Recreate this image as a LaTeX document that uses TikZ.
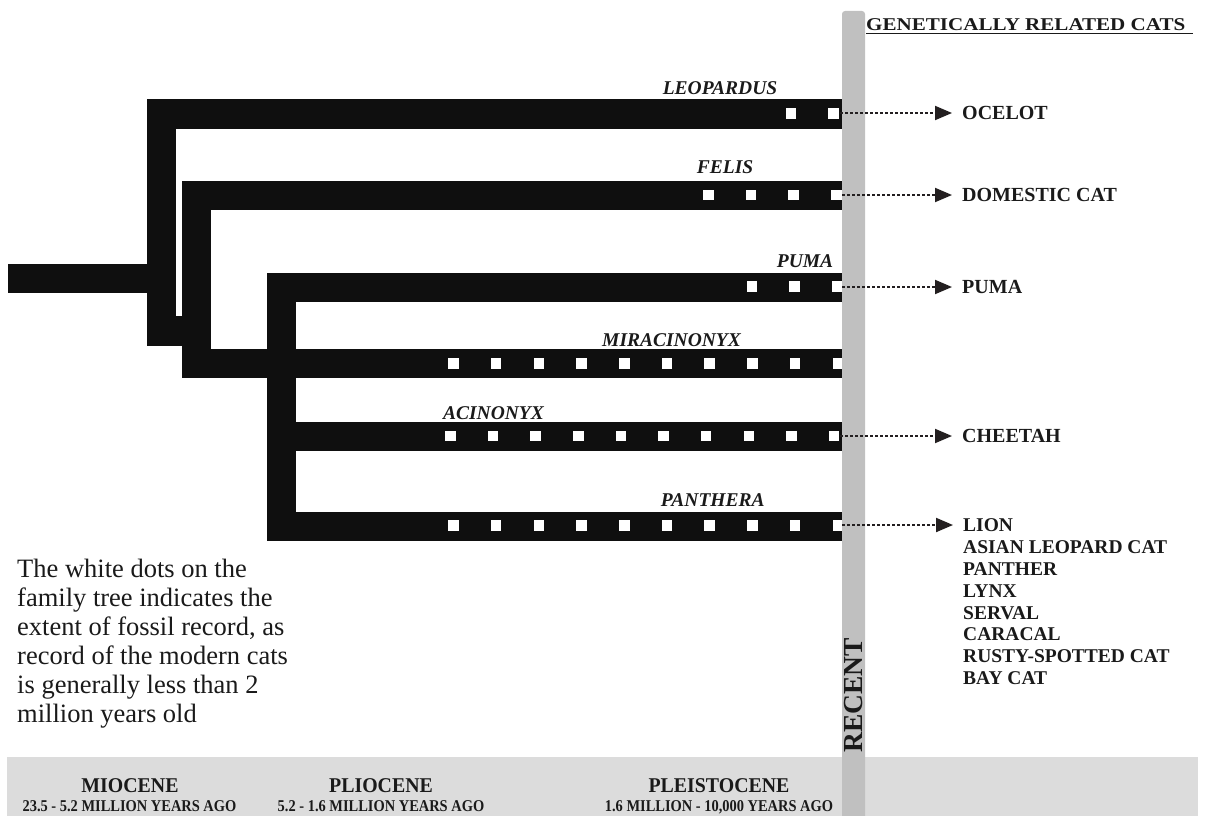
\documentclass[tikz,border=0pt]{standalone}
\usepackage{fontspec}
\setmainfont{Liberation Serif}
\usetikzlibrary{arrows.meta}
\definecolor{barblack}{HTML}{0F0F0F}
\definecolor{recentgray}{HTML}{C0C0C0}
\definecolor{bandgray}{HTML}{DCDCDC}
\definecolor{ink}{HTML}{1A1A1A}
\definecolor{tipcol}{HTML}{231F20}
\newcommand\fossildot[2]{\fill[white] ({#1-5.25},{#2-5.25}) rectangle ++(10.5,10.5);}
\begin{document}
\begin{tikzpicture}[x=1pt,y=-1pt,
  bar/.style={fill=barblack},
  genus/.style={font=\fontsize{19.5}{20}\selectfont\bfseries\itshape, text=ink, inner sep=0pt, anchor=base},
  species/.style={font=\fontsize{20}{22}\selectfont\bfseries, text=ink, inner sep=0pt, anchor=west, text height=13.2pt, text depth=0pt},
  listed/.style={font=\fontsize{19.5}{22}\selectfont\bfseries, text=ink, inner sep=0pt, anchor=west, text height=12.9pt, text depth=0pt},
  link/.style={draw=tipcol, line width=2pt, dash pattern=on 3pt off 2pt, -{Triangle[length=17pt,width=14pt,fill=tipcol]}, shorten >=10pt},
  era/.style={font=\fontsize{21}{22}\selectfont\bfseries, text=ink, inner sep=0pt, anchor=base, xscale=0.945},
  erasub/.style={font=\fontsize{16.5}{18}\selectfont\bfseries, text=ink, inner sep=0pt, anchor=base, xscale=0.875},
  note/.style={font=\fontsize{26.5}{29}\selectfont, text=ink, inner sep=0pt, anchor=base west}
]
\useasboundingbox (0,0) rectangle (1213,816);
% bottom band
\fill[bandgray] (7,757) rectangle (1198,820);

% tree bars
\fill[bar] (8,264) rectangle (147,293);
\fill[bar] (147,99) rectangle (176,346);
\fill[bar] (147,99) rectangle (842,128.5);
\fill[bar] (147,316) rectangle (211,346);
\fill[bar] (182,181) rectangle (211,378);
\fill[bar] (182,181) rectangle (842,210);
\fill[bar] (182,349) rectangle (842,378);
\fill[bar] (267,273) rectangle (296,541);
\fill[bar] (267,273) rectangle (842,302);
\fill[bar] (267,422) rectangle (842,451);
\fill[bar] (267,512) rectangle (842,541);

% fossil dots
\fossildot{791}{113.5}\fossildot{833.7}{113.5}
\foreach \k in {0,...,3} {\fossildot{708.3+42.67*\k}{195}}
\foreach \k in {0,...,2} {\fossildot{752+42.7*\k}{286.5}}
\foreach \k in {0,...,9} {\fossildot{453.5+42.7*\k}{363.7}}
\foreach \k in {0,...,9} {\fossildot{450.3+42.65*\k}{436}}
\foreach \k in {0,...,9} {\fossildot{453.5+42.7*\k}{525.5}}

% recent bar (over the bands and dots)
\fill[recentgray, rounded corners=3pt] (842,822) -- (842,11) -- (865,11) -- (865,822) -- cycle;
\node[font=\fontsize{27.5}{28}\selectfont\bfseries, text=ink, inner sep=0pt, text height=18.2pt, text depth=0pt, rotate=90] (recent) at (853.8,695.5) {RECENT};

% genus labels
\node[genus] (leopardus) at (720,94) {LEOPARDUS};
\node[genus] (felis) at (725,173) {FELIS};
\node[genus] (puma) at (805,267) {PUMA};
\node[genus, anchor=base west] (miracinonyx) at (602,346) {MIRACINONYX};
\node[genus] (acinonyx) at (493.5,419) {ACINONYX};
\node[genus] (panthera) at (712.8,506.5) {PANTHERA};

% header
\node[font=\fontsize{18}{20}\selectfont\bfseries, text=ink, inner sep=0pt, anchor=base west, xscale=1.17] (hdr) at (866,31) {GENETICALLY RELATED CATS};
\draw[ink, line width=1.3pt] (866,33.5) -- (1193,33.5);

% bar ends
\coordinate (e-leo) at (840,113);
\coordinate (e-fel) at (842,195);
\coordinate (e-pum) at (842,287);
\coordinate (e-aci) at (840,436);
\coordinate (e-pan) at (842,525);

% species
\node[species] (ocelot) at (962,113) {OCELOT};
\node[species] (domestic) at (962,195) {DOMESTIC CAT};
\node[species] (pumasp) at (962,287) {PUMA};
\node[species] (cheetah) at (962,436) {CHEETAH};
\node[listed] (lion) at (963,525) {LION};
\foreach \t [count=\i] in {ASIAN LEOPARD CAT,PANTHER,LYNX,SERVAL,CARACAL,RUSTY-SPOTTED CAT,BAY CAT}
  {\node[listed] (sp\i) at (963,{525+21.9*\i}) {\t};}

\draw[link] (e-leo) -- (ocelot.west);
\draw[link] (e-fel) -- (domestic.west);
\draw[link] (e-pum) -- (pumasp.west);
\draw[link] (e-aci) -- (cheetah.west);
\draw[link] (e-pan) -- (lion.west);

% note
\foreach \t [count=\i] in {The white dots on the,family tree indicates the,{extent of fossil record, as},record of the modern cats,is generally less than 2,million years old}
  {\node[note] (note\i) at (17,{577+29*(\i-1)}) {\t};}

% eras
\node[era] (miocene) at (130,792) {MIOCENE};
\node[erasub] (miosub) at (129.5,811) {23.5 - 5.2 MILLION YEARS AGO};
\node[era] (pliocene) at (381,792) {PLIOCENE};
\node[erasub] (pliosub) at (381,811) {5.2 - 1.6 MILLION YEARS AGO};
\node[era] (pleistocene) at (719,792) {PLEISTOCENE};
\node[erasub] (pleistosub) at (719,811) {1.6 MILLION - 10,000 YEARS AGO};
\end{tikzpicture}
\end{document}
